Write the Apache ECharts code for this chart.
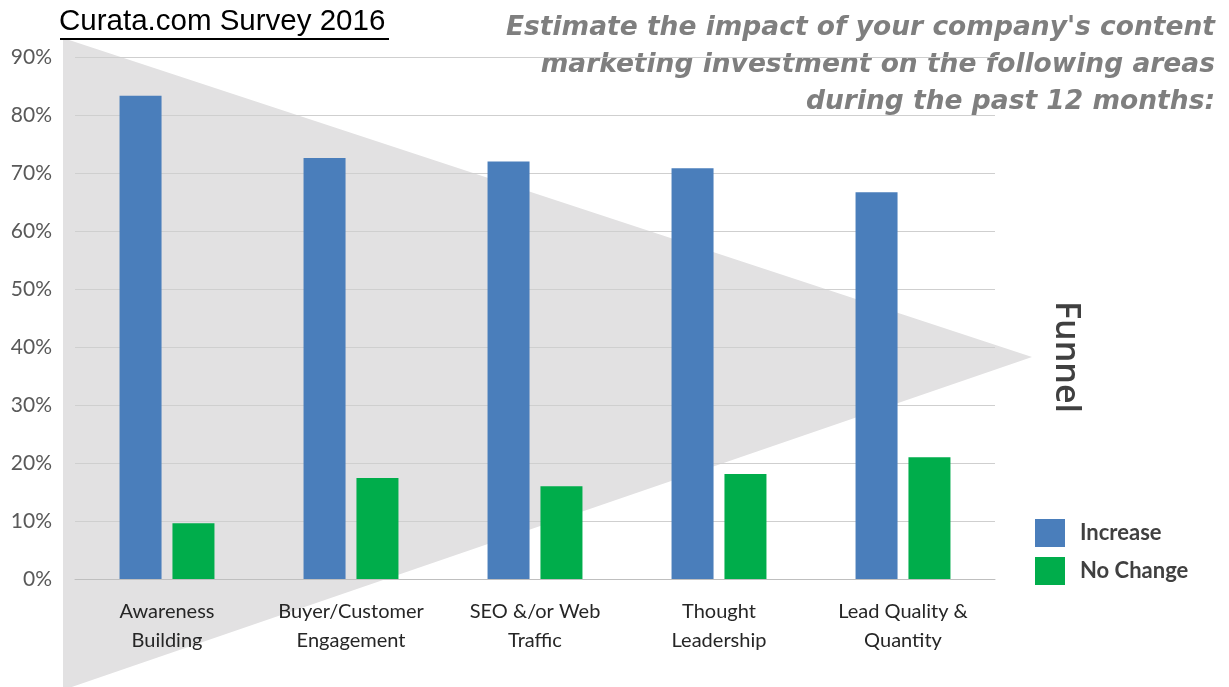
<!DOCTYPE html>
<html>
<head>
<meta charset="utf-8">
<script src="https://cdn.jsdelivr.net/npm/echarts@6/dist/echarts.min.js"></script>
<style>
  html, body { margin: 0; padding: 0; background: #fff; }
  #chart { width: 1229px; height: 687px; }
</style>
</head>
<body>
<div id="chart"></div>
<script>
// survey areas (x axis)
var categories = ['Awareness\nBuilding', 'Buyer/Customer\nEngagement', 'SEO &/or Web\nTraffic', 'Thought\nLeadership', 'Lead Quality &\nQuantity'];
// % of respondents
var increaseVals = [83.3, 72.6, 72.0, 70.8, 66.7];
var noChangeVals = [9.6, 17.4, 16.0, 18.1, 21.0];
var yTicks = [0, 10, 20, 30, 40, 50, 60, 70, 80, 90];

var chart = echarts.init(document.getElementById('chart'));

var option = {
    backgroundColor: '#fff',
    animation: false,
    textStyle: { fontFamily: 'Lato' },
    grid: { left: 75, right: 234, top: 57, bottom: 108 },
    graphic: [
        {
            // grey funnel behind the bars
            type: 'polygon',
            z: -10,
            shape: { points: [[63, 38], [1032, 357], [63, 690]] },
            style: { fill: '#e2e1e2' }
        },
        {
            type: 'text',
            x: 59, y: 7,
            style: { text: 'Curata.com Survey 2016', fill: '#000', font: '29.5px "Liberation Sans"' }
        },
        {
            type: 'rect',
            shape: { x: 60, y: 38, width: 329, height: 2 },
            style: { fill: '#000' }
        },
        {
            type: 'text',
            x: 1215, y: 10,
            style: {
                text: "Estimate the impact of your company's content\nmarketing investment on the following areas\nduring the past 12 months:",
                fill: '#7f7f7f',
                align: 'right',
                lineHeight: 37,
                font: 'italic bold 26.5px "DejaVu Sans"'
            }
        },
        {
            type: 'text',
            x: 1066, y: 357,
            rotation: -Math.PI / 2,
            style: {
                text: 'Funnel',
                fill: '#404040',
                font: '600 34px "Open Sans"',
                align: 'center',
                verticalAlign: 'middle'
            }
        }
    ],
    legend: {
        orient: 'vertical',
        left: 1035, top: 519, padding: 0,
        itemWidth: 30, itemHeight: 28, itemGap: 10,
        icon: 'rect',
        textStyle: { fontSize: 22, color: '#404040', fontFamily: 'Lato', fontWeight: 'bold', padding: [0, 0, 0, 10] },
        data: ['Increase', 'No Change']
    },
    xAxis: {
        type: 'category',
        data: categories,
        axisLine: { lineStyle: { color: '#bfbfbf' } },
        axisTick: { show: false },
        axisLabel: { fontSize: 20, color: '#262626', lineHeight: 29, margin: 18, interval: 0 }
    },
    yAxis: {
        type: 'value',
        min: 0, max: 90, interval: 10,
        axisLine: { show: false },
        axisTick: { show: false },
        splitLine: { lineStyle: { color: '#cfcfcf' } },
        axisLabel: {
            fontSize: 21, color: '#595959', margin: 23,
            formatter: function (v) { return yTicks.indexOf(v) >= 0 ? v + '%' : ''; }
        }
    },
    series: [
        {
            name: 'Increase', type: 'bar', data: increaseVals,
            barWidth: 42, barGap: '26%',
            itemStyle: { color: '#4a7ebb' }
        },
        {
            name: 'No Change', type: 'bar', data: noChangeVals,
            barWidth: 42,
            itemStyle: { color: '#00ad4b' }
        }
    ]
};

chart.setOption(option);
</script>
</body>
</html>
